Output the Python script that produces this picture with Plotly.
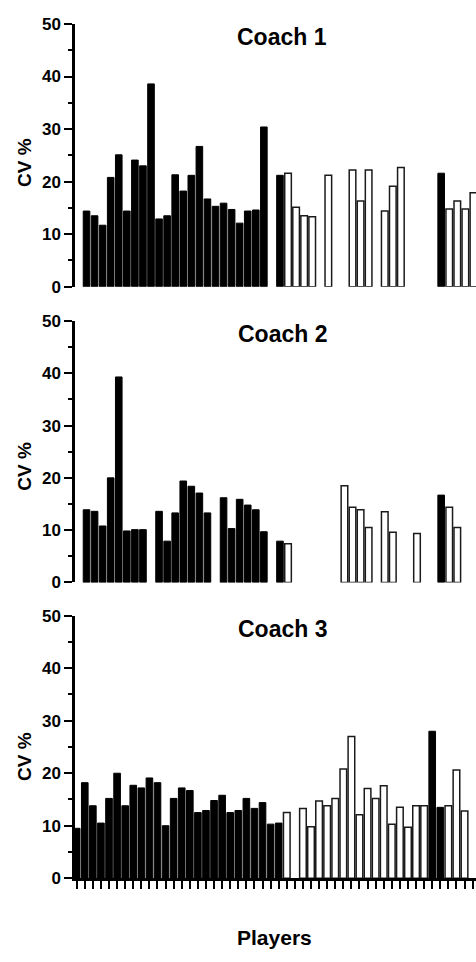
import plotly.graph_objects as go

N = None
slots = list(range(49))

coach1_black = [14.4, 13.5, 11.7, 20.8, 25.1, 14.4, 24.1, 23.0, 38.6, 12.9, 13.5, 21.3, 18.2, 21.2, 26.7, 16.7,
                15.3, 15.9, 14.7, 12.1, 14.4, 14.6, 30.4, N, 21.2, N, N, N, N, N, N, N, N, N, N, N, N, N, N, N,
                N, N, N, N, 21.6, N, N, N, N]
coach1_white = [N] * 25 + [21.6, 15.1, 13.5, 13.3, N, 21.2, N, N, 22.2, 16.3, 22.2, N, 14.4, 19.1, 22.7,
                           N, N, N, N, N, 14.8, 16.3, 14.8, 17.9]

coach2_black = [13.9, 13.6, 10.8, 20.0, 39.3, 9.85, 10.1, 10.1, N, 13.6, 7.9, 13.3, 19.4, 18.4, 17.1, 13.3,
                N, 16.2, 10.3, 15.9, 14.8, 13.9, 9.7, N, 7.9, N, N, N, N, N, N, N, N, N, N, N, N, N, N, N,
                N, N, N, N, 16.7, N, N, N, N]
coach2_white = [N] * 25 + [7.4, N, N, N, N, N, N, 18.5, 14.4, 13.9, 10.5, N, 13.5, 9.6, N, N, 9.35, N, N,
                           N, 14.4, 10.5, N, N]

coach3_black = [9.5, 18.2, 13.8, 10.5, 15.2, 20.0, 13.8, 17.7, 17.2, 19.1, 18.2, 10.0, 15.2, 17.2, 16.7, 12.5,
                12.9, 14.8, 15.8, 12.5, 12.9, 15.2, 13.3, 14.4, 10.3, 10.5, N, N, N, N, N, N, N, N, N, N,
                N, N, N, N, N, N, N, N, 28.0, 13.5, N, N, N]
coach3_white = [N] * 26 + [12.5, N, 13.3, 9.8, 14.7, 13.8, 15.2, 20.8, 27.0, 12.1, 17.1, 15.2, 17.6, 10.3,
                           13.5, 9.7, 13.8, 13.8, N, N, 13.8, 20.6, 12.8]

panel_titles = ["Coach 1", "Coach 2", "Coach 3"]
y_ticks = [0, 10, 20, 30, 40, 50]

W, H = 476, 962
FONT = "Liberation Sans, Arial, sans-serif"
BAR_W = 0.82

fig = go.Figure()
series = [(coach1_black, coach1_white), (coach2_black, coach2_white), (coach3_black, coach3_white)]
for i, (blk, wht) in enumerate(series):
    sfx = "" if i == 0 else str(i + 1)
    fig.add_trace(go.Bar(x=slots, y=blk, width=BAR_W, marker=dict(color="black", line=dict(color="black", width=1)),
                         xaxis="x" + sfx, yaxis="y" + sfx, showlegend=False))
    fig.add_trace(go.Bar(x=slots, y=wht, width=BAR_W, marker=dict(color="white", line=dict(color="#1a1a1a", width=1.5)),
                         xaxis="x" + sfx, yaxis="y" + sfx, showlegend=False))

# pixel geometry of panels (top of 50, bottom at 0)
panels_px = [(15.3, 283.3), (318.3, 585.0), (619.0, 886.7)]
x_left_px = 75.0
xranges = [[-1.43, 48.32], [-1.43, 48.32], [-0.21, 49.42]]

layout = dict(width=W, height=H, autosize=False, margin=dict(l=0, r=0, t=0, b=0),
              paper_bgcolor="white", plot_bgcolor="white", barmode="overlay", bargap=0.18,
              font=dict(family=FONT, color="black"))

for i, (top, bot) in enumerate(panels_px):
    sfx = "" if i == 0 else str(i + 1)
    ydom = [(H - bot) / H, (H - top) / H]
    xa = dict(domain=[x_left_px / W, 1.0], range=xranges[i], showgrid=False, zeroline=False,
              anchor="y" + sfx, fixedrange=True)
    if i == 2:
        xa.update(showline=True, linecolor="black", linewidth=2.5, ticks="outside", ticklen=8, tickwidth=2,
                  tickcolor="black", tickmode="linear", tick0=0, dtick=1, showticklabels=False)
    else:
        xa.update(visible=False)
    ya = dict(domain=ydom, range=[0, 50], showgrid=False, zeroline=False, anchor="x" + sfx,
              showline=True, linecolor="black", linewidth=2.5, ticks="outside", ticklen=8, tickwidth=2,
              tickcolor="black", tickmode="array", tickvals=y_ticks,
              tickfont=dict(family=FONT, size=17, color="black", weight="bold"),
              minor=dict(ticks="outside", ticklen=4, tickwidth=2, tickcolor="black", dtick=5, tick0=0, showgrid=False))
    layout["xaxis" + sfx] = xa
    layout["yaxis" + sfx] = ya

annotations = []
title_y_px = [29, 331.5, 632]
cv_y_px = [157, 467, 763]
for i in range(3):
    annotations.append(dict(text=panel_titles[i], xref="paper", yref="paper", x=282 / W, y=(H - title_y_px[i]) / H,
                            xanchor="center", yanchor="middle", showarrow=False,
                            font=dict(family=FONT, size=23, color="black", weight="bold")))
    annotations.append(dict(text="CV %", xref="paper", yref="paper", x=25 / W, y=(H - cv_y_px[i]) / H,
                            xanchor="center", yanchor="middle", showarrow=False, textangle=-90,
                            font=dict(family=FONT, size=19, color="black", weight="bold")))
annotations.append(dict(text="Players", xref="paper", yref="paper", x=274 / W, y=(H - 947) / H,
                        xanchor="center", yanchor="middle", showarrow=False,
                        font=dict(family=FONT, size=21, color="black", weight="bold")))
layout["annotations"] = annotations

fig.update_layout(**layout)
fig.write_html("out.html")
